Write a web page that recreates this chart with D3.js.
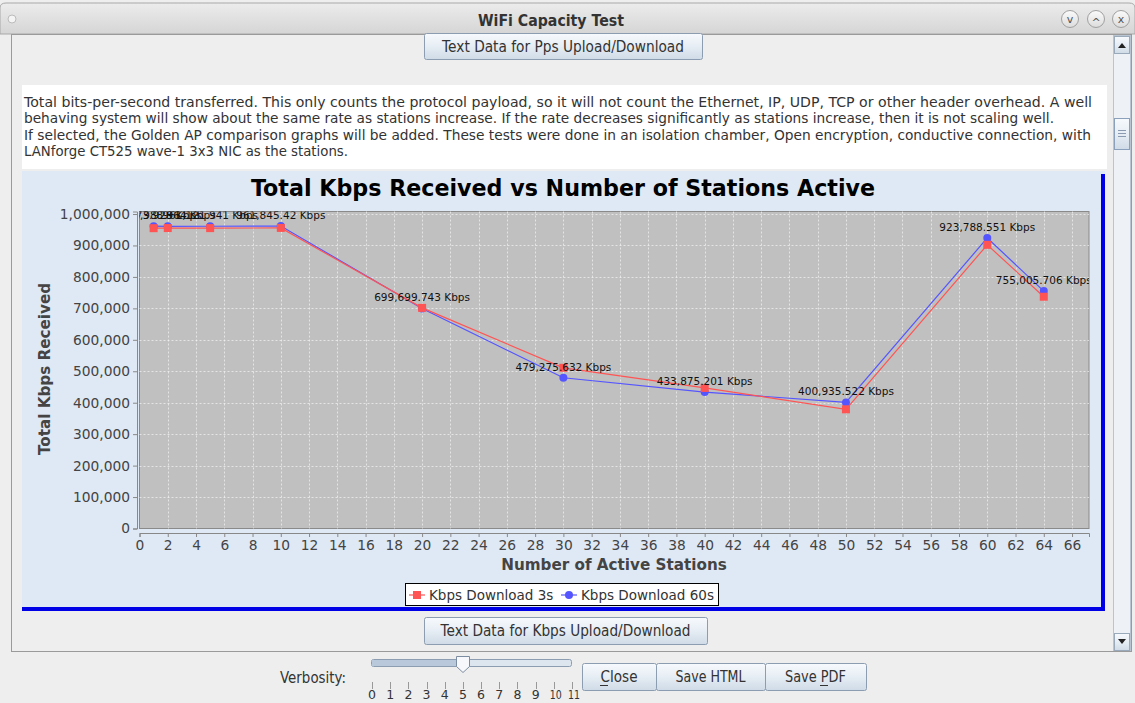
<!DOCTYPE html>
<html>
<head>
<meta charset="utf-8">
<script src="https://cdn.jsdelivr.net/npm/d3@7"></script>
<style>
  html, body { margin: 0; padding: 0; background: #eeeeee; }
  svg { display: block; font-family: "DejaVu Sans", sans-serif; }
</style>
</head>
<body>
<div id="chart"></div>
<script>
'use strict';

// data
const stations = [1, 2, 5, 10, 20, 30, 40, 50, 60, 64];
const kbps3s = [955000, 955400, 955200, 955800, 701500, 511000, 447000, 379000, 902000, 737000];
const kbps60s = [961473.928, 960988.964, 961121.941, 961845.42, 699699.743, 479275.632, 433875.201, 400935.522, 923788.551, 755005.706];
const xTicks = d3.range(0, 67, 2);
const yTicks = d3.range(0, 1000001, 100000);
const seriesNames = ['Kbps Download 3s', 'Kbps Download 60s'];

const descLines = [
    'Total bits-per-second transferred. This only counts the protocol payload, so it will not count the Ethernet, IP, UDP, TCP or other header overhead. A well',
    'behaving system will show about the same rate as stations increase. If the rate decreases significantly as stations increase, then it is not scaling well.',
    'If selected, the Golden AP comparison graphs will be added. These tests were done in an isolation chamber, Open encryption, conductive connection, with',
    'LANforge CT525 wave-1 3x3 NIC as the stations.'
];
const verbosityLabels = ['0', '1', '2', '3', '4', '5', '6', '7', '8', '9', '10', '11'];

const W = 1135, H = 703;
const svg = d3.select('#chart').append('svg').attr('width', W).attr('height', H);
const defs = svg.append('defs');

function vgrad(id, stops){
    const g = defs.append('linearGradient').attr('id', id)
        .attr('x1', 0).attr('y1', 0).attr('x2', 0).attr('y2', 1);
    stops.forEach(s => g.append('stop').attr('offset', s[0]).attr('stop-color', s[1]));
}
vgrad('titleGrad', [[0, '#ececec'], [1, '#d5d5d5']]);
vgrad('btnGrad', [[0, '#f7fafd'], [0.5, '#e6edf4'], [1, '#cfdbe7']]);
vgrad('circGrad', [[0, '#fbfbfb'], [1, '#dcdcdc']]);

// squeeze regular DejaVu into the width seen in the picture
function narrowText(sel, width){
    sel.attr('textLength', width).attr('lengthAdjust', 'spacingAndGlyphs');
    return sel;
}

// window chrome
svg.append('rect').attr('x', 0).attr('y', 0).attr('width', W).attr('height', H).attr('fill', '#eeeeee');
svg.append('path')
    .attr('d', 'M0,34 L0,8 Q0,3 6,3 L1129,3 Q1135,3 1135,8 L1135,34 Z')
    .attr('fill', 'url(#titleGrad)').attr('stroke', '#a8a8a8');
narrowText(svg.append('text').attr('x', 551).attr('y', 26)
    .attr('text-anchor', 'middle').attr('font-weight', 'bold').attr('font-size', 16)
    .attr('fill', '#333').text('WiFi Capacity Test'), 146);
svg.append('circle').attr('cx', 12).attr('cy', 19).attr('r', 4)
    .attr('fill', '#f4f4f4').attr('stroke', '#bbb');
[['v', 1070], ['^', 1096], ['x', 1121]].forEach(b => {
    svg.append('circle').attr('cx', b[1]).attr('cy', 19).attr('r', 8.5)
        .attr('fill', 'url(#circGrad)').attr('stroke', '#a0a0a0');
    svg.append('text').attr('x', b[1]).attr('y', b[0] === '^' ? 26 : 23)
        .attr('text-anchor', 'middle').attr('font-size', 11).attr('fill', '#555').text(b[0]);
});

// content frame
svg.append('rect').attr('x', 11.5).attr('y', 34.5).attr('width', 1120).attr('height', 617)
    .attr('fill', '#eeeeee').attr('stroke', '#9a9a9a');

// scrollbar
svg.append('rect').attr('x', 1113.5).attr('y', 35.5).attr('width', 17).attr('height', 615)
    .attr('fill', '#eef2f7').attr('stroke', '#b8c4d2');
svg.append('rect').attr('x', 1114.5).attr('y', 36.5).attr('width', 15).attr('height', 17)
    .attr('fill', 'url(#btnGrad)').attr('stroke', '#9aaabb');
svg.append('path').attr('d', 'M1118,48 L1122,43 L1126,48 Z').attr('fill', '#222');
svg.append('rect').attr('x', 1114.5).attr('y', 633.5).attr('width', 15).attr('height', 17)
    .attr('fill', 'url(#btnGrad)').attr('stroke', '#9aaabb');
svg.append('path').attr('d', 'M1118,639 L1126,639 L1122,644 Z').attr('fill', '#222');
svg.append('rect').attr('x', 1114.5).attr('y', 118.5).attr('width', 15).attr('height', 31)
    .attr('fill', 'url(#btnGrad)').attr('stroke', '#8aa0bb');
[130, 133, 136].forEach(yy => svg.append('line').attr('x1', 1118).attr('x2', 1126)
    .attr('y1', yy + 0.5).attr('y2', yy + 0.5).attr('stroke', '#8a9ab0'));

function button(x, y, w, h, label, textW){
    const g = svg.append('g');
    g.append('rect').attr('x', x + 0.5).attr('y', y + 0.5).attr('width', w).attr('height', h)
        .attr('rx', 2).attr('fill', 'url(#btnGrad)').attr('stroke', '#8d9db1');
    narrowText(g.append('text').attr('x', x + w / 2).attr('y', y + h / 2 + 5.5)
        .attr('text-anchor', 'middle').attr('font-size', 15).attr('fill', '#333').text(label), textW);
    return g;
}
button(424, 33, 278, 26, 'Text Data for Pps Upload/Download', 242);

// description text box
const descWidths = [1068, 1030, 1067, 324];
svg.append('rect').attr('x', 22).attr('y', 85).attr('width', 1085).attr('height', 84).attr('fill', '#ffffff');
svg.append('g').selectAll('text').data(descLines).join('text')
    .attr('x', 24).attr('y', (d, i) => 107 + i * 16.3)
    .attr('font-size', 14).attr('fill', '#333').text(d => d)
    .attr('textLength', (d, i) => descWidths[i]).attr('lengthAdjust', 'spacingAndGlyphs');

// chart panel
svg.append('rect').attr('x', 22).attr('y', 171).attr('width', 1083).attr('height', 440).attr('fill', '#dfe9f5');
svg.append('rect').attr('x', 1101).attr('y', 174).attr('width', 4).attr('height', 437).attr('fill', '#0000e6');
svg.append('rect').attr('x', 22).attr('y', 607).attr('width', 1083).attr('height', 4).attr('fill', '#0000e6');

svg.append('text').attr('x', 563).attr('y', 196).attr('text-anchor', 'middle')
    .attr('font-weight', 'bold').attr('font-size', 22.2).attr('fill', '#000')
    .text('Total Kbps Received vs Number of Stations Active');

const plot = {left: 139.5, right: 1089, top: 211.5, bottom: 528.5};
const x = d3.scaleLinear().domain([0, 67.2]).range([plot.left, plot.right]);
const y = d3.scaleLinear().domain([0, 1008000]).range([plot.bottom, plot.top]);

svg.append('rect').attr('x', plot.left).attr('y', plot.top)
    .attr('width', plot.right - plot.left).attr('height', plot.bottom - plot.top)
    .attr('fill', '#c0c0c0').attr('stroke', '#8a8a8a');

defs.append('clipPath').attr('id', 'plotClip').append('rect')
    .attr('x', plot.left).attr('y', plot.top)
    .attr('width', plot.right - plot.left).attr('height', plot.bottom - plot.top);

const grid = svg.append('g').attr('stroke', '#ffffff').attr('stroke-width', 0.7)
    .attr('stroke-dasharray', '2,2').attr('opacity', 0.85);
grid.selectAll('.vx').data(xTicks.slice(1)).join('line')
    .attr('x1', d => Math.round(x(d)) + 0.5).attr('x2', d => Math.round(x(d)) + 0.5)
    .attr('y1', plot.top).attr('y2', plot.bottom);
grid.selectAll('.hy').data(yTicks.slice(1)).join('line')
    .attr('y1', d => Math.round(y(d)) + 0.5).attr('y2', d => Math.round(y(d)) + 0.5)
    .attr('x1', plot.left).attr('x2', plot.right);

// axes
const yAxis = d3.axisLeft(y).tickValues(yTicks).tickFormat(d3.format(',')).tickSize(4).tickPadding(3);
const yg = svg.append('g').attr('transform', 'translate(137,0)').call(yAxis);
const xAxis = d3.axisBottom(x).tickValues(xTicks).tickSize(4).tickPadding(3);
const xg = svg.append('g').attr('transform', 'translate(0,533)').call(xAxis);
[yg, xg].forEach(g => {
    g.select('.domain').attr('stroke', '#888');
    g.selectAll('.tick line').attr('stroke', '#888');
    g.selectAll('.tick text').attr('font-size', 13.8).attr('fill', '#444')
        .attr('font-family', '"DejaVu Sans", sans-serif');
});

svg.append('text').attr('x', 614).attr('y', 570).attr('text-anchor', 'middle')
    .attr('font-weight', 'bold').attr('font-size', 15.2).attr('fill', '#444')
    .text('Number of Active Stations');
svg.append('text').attr('transform', 'translate(50,369) rotate(-90)').attr('text-anchor', 'middle')
    .attr('font-weight', 'bold').attr('font-size', 15.2).attr('fill', '#444')
    .text('Total Kbps Received');

// series
const red = '#ff5454', blue = '#5555ff';
const layer = svg.append('g').attr('clip-path', 'url(#plotClip)');
const line = vals => d3.line().x((d, i) => x(stations[i])).y(d => y(d))(vals);

layer.append('path').attr('d', line(kbps60s)).attr('fill', 'none').attr('stroke', blue).attr('stroke-width', 1.2);
layer.append('path').attr('d', line(kbps3s)).attr('fill', 'none').attr('stroke', red).attr('stroke-width', 1.2);
layer.selectAll('.c60').data(kbps60s).join('circle')
    .attr('cx', (d, i) => x(stations[i])).attr('cy', d => y(d)).attr('r', 4).attr('fill', blue);
layer.selectAll('.s3').data(kbps3s).join('rect')
    .attr('x', (d, i) => x(stations[i]) - 4).attr('y', d => y(d) - 4)
    .attr('width', 8).attr('height', 8).attr('fill', red);
const fmt = d3.format(',');
layer.selectAll('.lbl').data(kbps60s).join('text')
    .attr('x', (d, i) => x(stations[i])).attr('y', d => y(d) - 7)
    .attr('text-anchor', 'middle').attr('font-size', 10.5).attr('fill', '#111')
    .text(d => fmt(d) + ' Kbps');

// legend
const lg = svg.append('g');
lg.append('rect').attr('x', 405.5).attr('y', 583.5).attr('width', 313).attr('height', 22)
    .attr('fill', '#fff').attr('stroke', '#000');
[[red, 409, 'rect'], [blue, 561, 'circle']].forEach((s, i) => {
    lg.append('line').attr('x1', s[1]).attr('x2', s[1] + 16).attr('y1', 595).attr('y2', 595)
        .attr('stroke', s[0]).attr('stroke-width', 1.2);
    if(s[2] === 'rect'){
        lg.append('rect').attr('x', s[1] + 4).attr('y', 591).attr('width', 8).attr('height', 8).attr('fill', s[0]);
    } else {
        lg.append('circle').attr('cx', s[1] + 8).attr('cy', 595).attr('r', 4).attr('fill', s[0]);
    }
    lg.append('text').attr('x', s[1] + 20).attr('y', 600).attr('font-size', 13.5).attr('fill', '#333')
        .text(seriesNames[i]);
});

button(424, 617, 283, 27, 'Text Data for Kbps Upload/Download', 250);

// bottom bar
narrowText(svg.append('text').attr('x', 346).attr('y', 683).attr('text-anchor', 'end')
    .attr('font-size', 15).attr('fill', '#333').text('Verbosity:'), 66);
svg.append('rect').attr('x', 371.5).attr('y', 659.5).attr('width', 200).attr('height', 7)
    .attr('rx', 2).attr('fill', '#dde5ee').attr('stroke', '#8d9db1');
svg.append('rect').attr('x', 372).attr('y', 660).attr('width', 90).attr('height', 6).attr('fill', '#b9c9db');
svg.append('path').attr('d', 'M456.5,656.5 L469.5,656.5 L469.5,666.5 L463,672.5 L456.5,666.5 Z')
    .attr('fill', '#f6f8fb').attr('stroke', '#7d8da1');
const vx = d3.scalePoint().domain(verbosityLabels).range([372, 572]);
svg.append('g').selectAll('line').data(verbosityLabels).join('line')
    .attr('x1', d => Math.round(vx(d)) + 0.5).attr('x2', d => Math.round(vx(d)) + 0.5)
    .attr('y1', 682).attr('y2', 689).attr('stroke', '#999');
svg.append('g').selectAll('text').data(verbosityLabels).join('text')
    .attr('x', d => vx(d) + (d.length > 1 ? 2 : 0)).attr('y', 699).attr('text-anchor', 'middle')
    .attr('font-size', 12.5).attr('fill', '#333').text(d => d)
    .each(function(d){ if(d.length > 1) narrowText(d3.select(this), 12); });

const bb = [['Close', 582, 74, 37], ['Save HTML', 656, 109, 70], ['Save PDF', 765, 101, 61]];
bb.forEach(b => button(b[1], 663, b[2], 27, b[0], b[3]));
// mnemonic underlines
svg.append('line').attr('x1', 600).attr('x2', 608).attr('y1', 685.5).attr('y2', 685.5).attr('stroke', '#333');
svg.append('line').attr('x1', 820).attr('x2', 828).attr('y1', 685.5).attr('y2', 685.5).attr('stroke', '#333');
</script>
</body>
</html>
